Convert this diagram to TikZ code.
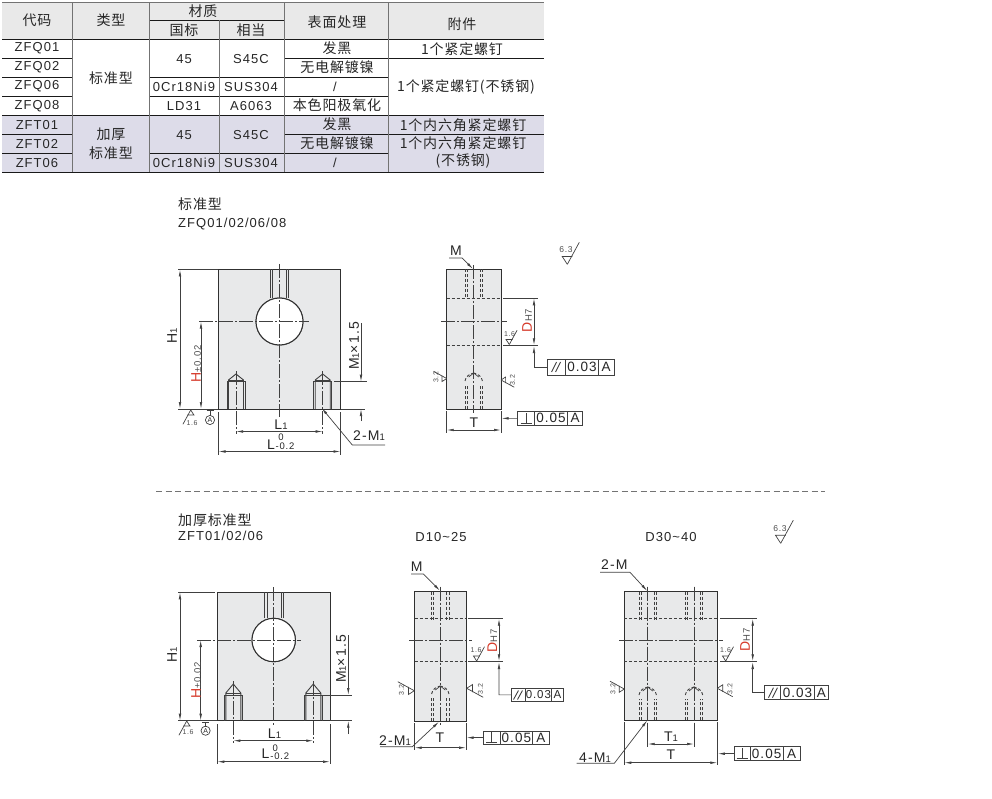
\documentclass[tikz,border=0pt]{standalone}
\usepackage{fontspec}
\setmainfont[LetterSpace=8]{Liberation Sans}
\newfontfamily\cjk[LetterSpace=6]{Noto Sans CJK SC}
\usepackage{tikz}
\usetikzlibrary{arrows.meta}
\definecolor{headc}{HTML}{E9E9E9}
\definecolor{lavc}{HTML}{DDDCE9}
\definecolor{partc}{HTML}{E8E9EA}
\definecolor{linec}{HTML}{303030}
\definecolor{dimc}{HTML}{404040}
\definecolor{redc}{HTML}{D63A2A}
\tikzset{
  every node/.style={inner sep=0pt,text=black!85,font=\fontsize{13}{15}\selectfont},
  zh/.style={font=\fontsize{14}{16}\selectfont\cjk},
  tinytxt/.style={font=\fontsize{7}{8}\selectfont,text=black!70},
  roughtxt/.style={font=\fontsize{8.5}{9}\selectfont,text=black!70},
  smalltxt/.style={font=\fontsize{9.5}{11}\selectfont},
  dimtxt/.style={font=\fontsize{14}{16}\selectfont},
  partbox/.style={draw=linec,fill=partc,line width=1pt},
  hrule/.style={draw=black!90,line width=.8pt},
  vrule/.style={draw=black!55,line width=1pt},
  fineline/.style={draw=dimc,line width=.7pt},
  axisline/.style={draw=dimc,line width=.7pt,dash pattern=on 14pt off 2pt on 2pt off 2pt},
  hidden/.style={draw=dimc,line width=.9pt,dash pattern=on 3pt off 2pt},
  dimline/.style={draw=dimc,line width=.7pt,>={Latex[length=7pt,width=2.6pt]}},
  tolframe/.style={draw=dimc,line width=.7pt,fill=white}
}
% roughness mark: apex, rotation, scale
\newcommand{\surfmark}[3]{
  \begin{scope}[shift={(#1)},rotate=#2,scale=#3]
    \draw[fineline] (0,0) -- (-5,-7.7) -- (5,-7.7);
    \draw[fineline] (0,0) -- (12,-22);
  \end{scope}
}
% threaded hole seen from the front
\newcommand{\holefront}[5]{
  \draw[fineline,line width=.9pt] ({#1-9},#5) -- ({#1-9},#2) -- ({#1+9},#2) -- ({#1+9},#5);
  \draw[fineline,line width=.9pt] ({#1-7.5},#5) -- ({#1-7.5},#3) -- (#1,#4) -- ({#1+7.5},#3) -- ({#1+7.5},#5);
  \draw[fineline] ({#1-7.5},#3) -- ({#1+7.5},#3);
}
% hidden hole seen from the side: centre, dash top, bottom, cone top
\newcommand{\holeside}[4]{
  \foreach \d in {-8.7,-6.5,6.5,8.7}
    \draw[hidden] ({#1+\d},#3) -- ({#1+\d},{#4+12});
  \draw[hidden] ({#1-8.7},{#4+8}) .. controls ({#1-8},{#4+3}) and ({#1-4},{#4+1}) .. (#1,#4);
  \draw[hidden] ({#1+8.7},{#4+8}) .. controls ({#1+8},{#4+3}) and ({#1+4},{#4+1}) .. (#1,#4);
  \draw[fineline] ({#1-5},{#4+4}) -- (#1,#4) -- ({#1+5},{#4+4});
  \foreach \d in {-8.7,-6.5,6.5,8.7}
    \draw[hidden] ({#1+\d},#2) -- ({#1+\d},{#2+28});
}
% feature frame: name, x0, split, split, x1, y0, y1, value, size
\newcommand{\tolbox}[9]{
  \draw[tolframe] (#2,#6) rectangle (#5,#7);
  \draw[tolframe] (#3,#6) -- (#3,#7) (#4,#6) -- (#4,#7);
  \coordinate (#1in) at (#2,{(#6+#7)/2});
  \node[font=\fontsize{#9}{#9}\selectfont] (#1val) at ({(#3+#4)/2},{(#6+#7)/2}) {#8};
  \node[font=\fontsize{#9}{#9}\selectfont] (#1ref) at ({(#4+#5)/2},{(#6+#7)/2}) {A};
}
\newcommand{\parmark}[3]{\draw[fineline,line width=.9pt] ({#1-5},{#2+#3}) -- ({#1},{#2-#3}) ({#1-1},{#2+#3}) -- ({#1+4},{#2-#3});}
\newcommand{\perpmark}[3]{\draw[fineline,line width=1pt] ({#1-#3},{#2+5}) -- ({#1+#3},{#2+5}) ({#1},{#2+5}) -- ({#1},{#2-5.5});}
\newcommand{\sbs}[1]{{\fontsize{9.5}{9.5}\selectfont #1}}
\begin{document}
\begin{tikzpicture}[x=1pt,y=-1pt]
  \useasboundingbox (0,0) rectangle (992,799);
  %% the table
  \fill[headc] (2,3) rectangle (544,39);
  \fill[lavc] (2,115) rectangle (544,172);
  \draw[vrule] (2,3) -- (544,3);
  \foreach \y in {58,77,96}
    \draw[hrule] (2,\y) -- (72,\y);
  \foreach \y in {134,153}
    \draw[hrule] (2,\y) -- (72,\y);
  \draw[hrule] (2,39) -- (544,39);
  \draw[hrule] (2,115) -- (544,115);
  \draw[hrule] (2,172) -- (544,172);
  \draw[hrule] (149,20) -- (284,20);
  \foreach \y in {77,96,153}
    \draw[hrule] (149,\y) -- (284,\y);
  \foreach \y in {58,77,96,134,153}
    \draw[hrule] (284,\y) -- (388,\y);
  \foreach \y in {58,134}
    \draw[hrule] (388,\y) -- (544,\y);
  \foreach \x in {72,149,284,388}
    \draw[vrule] (\x,3) -- (\x,172);
  \draw[vrule] (219,20) -- (219,172);
  % table text
  \foreach \px/\py/\ptxt [count=\i] in {37/20/代码,111/20/类型,203/11/材质,184/30/国标,251/30/相当,
    337/22/表面处理,462/24/附件,111/78/标准型,111/134/加厚,111/153/标准型,
    337/48/发黑,337/67/无电解镀镍,337/105/本色阳极氧化,337/124/发黑,337/143/无电解镀镍,
    462/49/1个紧定螺钉,466/87/1个紧定螺钉(不锈钢),463/125/1个内六角紧定螺钉,
    463/143/1个内六角紧定螺钉,463/161/(不锈钢)}
    \node[zh] (cell\i) at (\px,\py) {\ptxt};
  \foreach \px/\py/\ptxt [count=\i] in {37/48/ZFQ01,37/67/ZFQ02,37/86/ZFQ06,37/106/ZFQ08,
    37/125/ZFT01,37/144/ZFT02,37/163/ZFT06,184/59/45,251/59/S45C,184/87/0Cr18Ni9,251/87/SUS304,
    184/106/LD31,251/106/A6063,184/135/45,251/135/S45C,184/163/0Cr18Ni9,251/163/SUS304}
    \node (val\i) at (\px,\py) {\ptxt};
  \node (slasha) at (335,87) {/};
  \node (slashb) at (335,163) {/};
  % titles and divider
  \node[zh,anchor=west] (titleq) at (178,204) {标准型};
  \node[anchor=west] (codeq) at (178,224) {ZFQ01/02/06/08};
  \node[zh,anchor=west] (titlet) at (178,520) {加厚标准型};
  \node[anchor=west] (codet) at (178,536) {ZFT01/02/06};
  \node (rangea) at (441,537) {D10\textasciitilde25};
  \node (rangeb) at (671,537) {D30\textasciitilde40};
  \draw[draw=black!55,line width=.9pt,dash pattern=on 6pt off 3.5pt] (156,491) -- (825,491);

  %% standard type, front view
  \draw[partbox] (218.5,269.5) rectangle (340.5,409);
  \foreach \x in {270,272.7,286,288.7}
    \draw[fineline,line width=.8pt] (\x,269.5) -- (\x,298);
  \foreach \x in {236,322.7}
    \holefront{\x}{381.7}{380}{374}{409}
  \draw[linec,fill=white,line width=1pt] (279.5,321.5) circle (23.5);
  \draw[axisline] (279.5,264) -- (279.5,417);
  \draw[axisline] (199,321.5) -- (309,321.5);
  \foreach \x in {236,322.7}
    \draw[axisline] (\x,371) -- (\x,434);
  % dimensions
  \draw[fineline] (178,269.5) -- (218,269.5) (178,409) -- (218,409);
  \draw[dimline,<->] (180,269.5) -- (180,409);
  \draw[dimline,<->] (201,321.5) -- (201,409);
  \node[dimtxt,rotate=90] (hone) at (172,336) {H\sbs{1}};
  \node[dimtxt,rotate=90] (hq) at (196,364) {\textcolor{redc}{H}\sbs{\textcolor{black!70}{±0.02}}};
  \draw[fineline] (334,381.7) -- (367,381.7) (341,409) -- (365,409);
  \draw[dimline,->] (361,323) -- (361,381.7);
  \draw[dimline,->] (361,421) -- (361,409);
  \node[dimtxt,rotate=90] (mq) at (354,346) {M\sbs{1}×1.5};
  \draw[fineline] (218.5,412) -- (218.5,455) (340.5,412) -- (340.5,455);
  \draw[dimline,<->] (236,431.5) -- (322.7,431.5);
  \draw[dimline,<->] (218.5,451.5) -- (340.5,451.5);
  \node[dimtxt] (loneq) at (281,425) {L\sbs{1}};
  \node[dimtxt] (lq) at (271,445) {L};
  \node[smalltxt] (lqa) at (281,437) {0};
  \node[smalltxt,anchor=west] (lqb) at (275.5,446.5) {-0.2};
  \coordinate (mholeq) at (321.7,408);
  \node[dimtxt] (mtwoq) at (369,436) {2-M\sbs{1}};
  \draw[dimline,->] (385,445) -- (352.3,445) -- (mholeq);
  % marks
  \surfmark{190.7,410}{180}{.65}
  \node[tinytxt] (sfa) at (192,423) {1.6};
  \draw[fineline] (206.5,410.5) -- (213.5,410.5) (210,410.5) -- (210,415.5);
  \draw[fineline] (210,420) circle (4.6);
  \node[font=\fontsize{7}{8}\selectfont] (dqa) at (210,420) {A};

  %% standard type, side view
  \draw[partbox] (446.7,269.3) rectangle (501,409);
  \foreach \y in {298.3,345.3}
    \draw[hidden] (446.7,\y) -- (501,\y);
  \holeside{473.7}{269.3}{409}{373}
  \draw[axisline] (473.7,265) -- (473.7,413);
  \draw[axisline] (441,321.7) -- (507,321.7);
  \draw[fineline] (503,298.3) -- (538,298.3) (503,345.3) -- (538,345.3);
  \draw[dimline,<->] (534,298.3) -- (534,345.3);
  \node[dimtxt,rotate=90] (dq) at (527,320.5) {\textcolor{redc}{D}\sbs{\textcolor{black!70}{H7}}};
  \tolbox{parq}{547.3}{565.7}{598.3}{614}{359}{375}{0.03}{13.5}
  \parmark{556.5}{367}{5}
  \draw[dimline,->] (parqin) -- (534,367) -- (534,346);
  \tolbox{perq}{517.7}{534.3}{567.7}{582.7}{411}{425.7}{0.05}{13.5}
  \perpmark{526}{418.5}{5.5}
  \draw[dimline,->] (perqin) -- (501.5,418.35);
  \draw[fineline] (446.7,411) -- (446.7,433) (501,411) -- (501,433);
  \draw[dimline,<->] (446.7,430) -- (501,430);
  \node[dimtxt] (tq) at (474,423) {T};
  \node[dimtxt] (mq2) at (456,251) {M};
  \coordinate (mtopq) at (473,269);
  \draw[dimline,->] (449,258) -- (462,258) -- (mtopq);
  \surfmark{567.3,264.3}{0}{1}
  \node[roughtxt] (sfb) at (566,250) {6.3};
  \surfmark{509.3,344.5}{0}{.65}
  \node[tinytxt] (sfc) at (509.5,334.5) {1.6};
  \surfmark{446.7,378.5}{90}{.6}
  \node[tinytxt,rotate=90] (sfd) at (436,377.5) {3.2};
  \surfmark{501,380}{-90}{.6}
  \node[tinytxt,rotate=90] (sfe) at (512.5,380.5) {3.2};

  %% thick type, front view
  \draw[partbox] (217.3,592.3) rectangle (330,720.7);
  \foreach \x in {264.3,267,281,283.7}
    \draw[fineline,line width=.8pt] (\x,592.3) -- (\x,618);
  \foreach \x in {233.3,313.3}
    \holefront{\x}{695}{693}{684}{720.7}
  \draw[linec,fill=white,line width=1pt] (273.7,640) circle (21.7);
  \draw[axisline] (273.7,587) -- (273.7,725);
  \draw[axisline] (197,640) -- (300.7,640);
  \foreach \x in {233.3,313.3}
    \draw[axisline] (\x,681) -- (\x,743);
  \draw[fineline] (178,592.3) -- (215,592.3) (178,720.7) -- (217,720.7);
  \draw[dimline,<->] (180,592.3) -- (180,720.7);
  \draw[dimline,<->] (200.7,640) -- (200.7,720.7);
  \node[dimtxt,rotate=90] (honet) at (172,655) {H\sbs{1}};
  \node[dimtxt,rotate=90] (ht) at (196,680.5) {\textcolor{redc}{H}\sbs{\textcolor{black!70}{±0.02}}};
  \draw[fineline] (323.3,695) -- (352,695) (330,720.7) -- (352,720.7);
  \draw[dimline,->] (348.3,635) -- (348.3,695);
  \draw[dimline,->] (348.3,734) -- (348.3,720.7);
  \node[dimtxt,rotate=90] (mt) at (341,659) {M\sbs{1}×1.5};
  \draw[fineline] (217.3,724) -- (217.3,764) (330,724) -- (330,764);
  \draw[dimline,<->] (233.3,740.7) -- (313.3,740.7);
  \draw[dimline,<->] (217.3,761.7) -- (330,761.7);
  \node[dimtxt] (lonet) at (274.5,734) {L\sbs{1}};
  \node[dimtxt] (lt) at (265.5,754) {L};
  \node[smalltxt] (lta) at (275.3,748) {0};
  \node[smalltxt,anchor=west] (ltb) at (270.2,756.7) {-0.2};
  \surfmark{186.7,721}{180}{.65}
  \node[tinytxt] (sff) at (188,732) {1.6};
  \draw[fineline] (202,722) -- (209,722) (205.6,722) -- (205.6,726.5);
  \draw[fineline] (205.6,730.7) circle (4.6);
  \node[font=\fontsize{7}{8}\selectfont] (dta) at (205.6,730.7) {A};

  %% thick type, D10~25
  \draw[partbox] (414.7,591.7) rectangle (466,721);
  \foreach \y in {618.7,661.3}
    \draw[hidden] (414.7,\y) -- (466,\y);
  \holeside{440.3}{591.7}{721}{686}
  \draw[axisline] (440.3,586.7) -- (440.3,725.7);
  \draw[axisline] (409.3,640) -- (471.7,640);
  \draw[fineline] (468.3,618.7) -- (502.7,618.7) (468.3,661.3) -- (502.7,661.3);
  \draw[dimline,<->] (499,618.7) -- (499,661.3);
  \node[dimtxt,rotate=90] (da) at (492.3,641) {\textcolor{redc}{D}\sbs{\textcolor{black!70}{H7}}};
  \tolbox{para}{511.7}{525}{551.7}{563.3}{688.7}{701}{0.03}{11.5}
  \parmark{518.5}{695}{4.5}
  \draw[dimline,->] (parain) -- (499,694.85) -- (499,662);
  \tolbox{pera}{483.3}{500}{532.7}{549}{731}{744.3}{0.05}{13.5}
  \perpmark{491.5}{737.5}{5.5}
  \draw[dimline,->] (perain) -- (466.5,737.65);
  \draw[fineline] (414.7,723) -- (414.7,750) (466,723) -- (466,750);
  \draw[dimline,<->] (414.7,747.7) -- (466,747.7);
  \node[dimtxt] (ta) at (440,738) {T};
  \node[dimtxt] (mma) at (416.7,567) {M};
  \coordinate (mtopa) at (440,590.7);
  \draw[dimline,->] (411,574) -- (423.3,574) -- (mtopa);
  \node[dimtxt] (mna) at (395,741) {2-M\sbs{1}};
  \coordinate (mbota) at (439,721.7);
  \draw[dimline,->] (380,746.7) -- (412.3,746.7) -- (mbota);
  \surfmark{476.7,661}{0}{.65}
  \node[tinytxt] (sfg) at (476,650.5) {1.6};
  \surfmark{414.3,690.7}{90}{.75}
  \node[tinytxt,rotate=90] (sfh) at (401.5,690) {3.2};
  \surfmark{466.7,688.3}{-90}{.75}
  \node[tinytxt,rotate=90] (sfi) at (480.5,689) {3.2};

  %% thick type, D30~40
  \draw[partbox] (624.3,591.7) rectangle (717.3,720.3);
  \foreach \y in {618.7,661.3}
    \draw[hidden] (624.3,\y) -- (717.3,\y);
  \foreach \x in {647.7,694}
    \holeside{\x}{591.7}{720.3}{687}
  \foreach \x in {647.7,694}
    \draw[axisline] (\x,586.7) -- (\x,725);
  \draw[axisline] (619.3,640) -- (722.7,640);
  \draw[fineline] (720,618.7) -- (756.7,618.7) (720,661.3) -- (756.7,661.3);
  \draw[dimline,<->] (752.7,618.7) -- (752.7,661.3);
  \node[dimtxt,rotate=90] (db) at (745,640) {\textcolor{redc}{D}\sbs{\textcolor{black!70}{H7}}};
  \tolbox{parb}{764.3}{780.7}{814.3}{828.3}{685.7}{699.3}{0.03}{13.5}
  \parmark{773.5}{692.7}{5}
  \draw[dimline,->] (parbin) -- (752.7,692.5) -- (752.7,662);
  \tolbox{perb}{734}{750}{783.3}{800}{746.7}{760.7}{0.05}{13.5}
  \perpmark{742}{753.7}{5.5}
  \draw[dimline,->] (perbin) -- (717.8,753.7);
  \draw[fineline] (647.7,725) -- (647.7,746.7) (694,725) -- (694,746.7);
  \draw[fineline] (624.3,722) -- (624.3,765) (717.3,722) -- (717.3,765);
  \draw[dimline,<->] (647.7,744) -- (694,744);
  \draw[dimline,<->] (624.3,762.7) -- (717.3,762.7);
  \node[dimtxt] (tonb) at (671,737) {T\sbs{1}};
  \node[dimtxt] (tb) at (671,755) {T};
  \node[dimtxt] (mmb) at (614.3,565) {2-M};
  \coordinate (mtopb) at (647.3,591);
  \draw[dimline,->] (600,572.3) -- (630,572.3) -- (mtopb);
  \node[dimtxt] (mnb) at (595,758) {4-M\sbs{1}};
  \coordinate (mbotb) at (647.3,720.3);
  \draw[dimline,->] (576.7,763.3) -- (614.3,763.3) -- (mbotb);
  \surfmark{780.7,543.3}{0}{1.05}
  \node[roughtxt] (sfj) at (780,528.5) {6.3};
  \surfmark{725.7,661}{0}{.65}
  \node[tinytxt] (sfk) at (725.5,650.5) {1.6};
  \surfmark{624.3,689}{90}{.65}
  \node[tinytxt,rotate=90] (sfl) at (613,689) {3.2};
  \surfmark{717.3,688.3}{-90}{.7}
  \node[tinytxt,rotate=90] (sfm) at (730,689) {3.2};
\end{tikzpicture}
\end{document}
